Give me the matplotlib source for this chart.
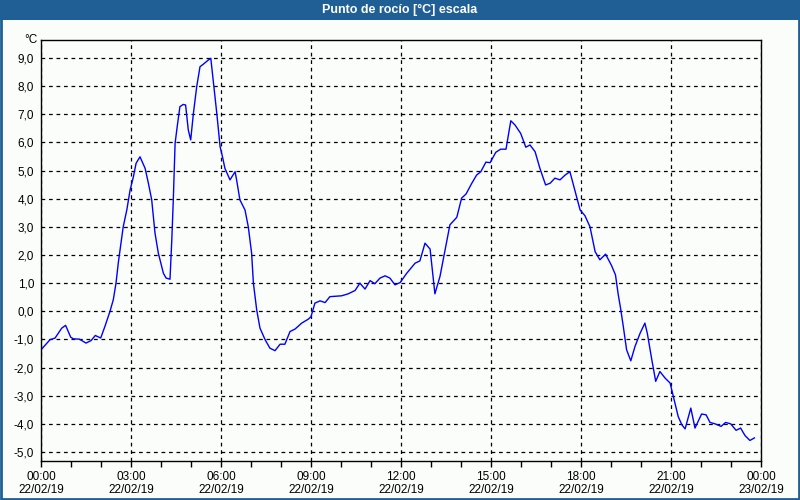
import matplotlib.pyplot as plt
from matplotlib.patches import Rectangle

# --- Data (hours since 22/02/19 00:00, dew point in °C) ---
hours = [0.0, 0.30, 0.47, 0.69, 0.82, 0.99, 1.08, 1.28, 1.5, 1.67, 1.81, 1.99, 2.13, 2.3,
         2.41, 2.5, 2.58, 2.74, 2.86, 2.97, 3.08, 3.17, 3.3, 3.47, 3.58, 3.69, 3.8, 3.91,
         4.08, 4.17, 4.3, 4.36, 4.41, 4.47, 4.54, 4.63, 4.74, 4.82, 4.91, 4.99, 5.08, 5.19,
         5.3, 5.41, 5.58, 5.66, 5.74, 5.86, 5.97, 6.06, 6.13, 6.3, 6.47, 6.52, 6.63, 6.8,
         6.91, 7.02, 7.08, 7.19, 7.3, 7.47, 7.63, 7.8, 7.97, 8.13, 8.3, 8.47, 8.69, 8.91,
         9.0, 9.13, 9.3, 9.47, 9.63, 10.02, 10.24, 10.47, 10.63, 10.8, 10.97, 11.13, 11.3,
         11.47, 11.63, 11.8, 11.97, 12.19, 12.47, 12.63, 12.8, 12.97, 13.13, 13.3, 13.47,
         13.63, 13.86, 14.02, 14.17, 14.36, 14.52, 14.66, 14.83, 14.97, 15.16, 15.32, 15.5,
         15.66, 15.8, 15.99, 16.16, 16.3, 16.47, 16.63, 16.82, 16.97, 17.13, 17.3, 17.47,
         17.63, 17.8, 17.97, 18.13, 18.3, 18.47, 18.63, 18.82, 19.02, 19.15, 19.24, 19.32,
         19.41, 19.52, 19.66, 19.8, 19.97, 20.13, 20.21, 20.36, 20.49, 20.63, 20.8, 20.97,
         21.08, 21.24, 21.36, 21.47, 21.66, 21.8, 22.02, 22.17, 22.3, 22.47, 22.67, 22.82,
         22.99, 23.17, 23.32, 23.47, 23.63, 23.78]
dew_point = [-1.37, -1.01, -0.95, -0.6, -0.5, -0.92, -0.98, -0.99, -1.13, -1.04, -0.86, -0.95,
             -0.54, 0.0, 0.41, 1.0, 1.75, 3.0, 3.6, 4.31, 4.78, 5.26, 5.49, 5.08, 4.55, 3.96,
             2.78, 2.07, 1.35, 1.18, 1.14, 2.54, 3.96, 5.97, 6.56, 7.27, 7.35, 7.33, 6.44,
             6.09, 7.03, 7.98, 8.69, 8.78, 8.93, 8.99, 8.22, 7.03, 5.85, 5.44, 5.08, 4.67,
             4.96, 4.67, 3.96, 3.6, 3.0, 2.07, 1.0, 0.05, -0.6, -1.01, -1.31, -1.4, -1.17,
             -1.17, -0.72, -0.63, -0.42, -0.28, -0.19, 0.29, 0.37, 0.31, 0.52, 0.55, 0.62,
             0.74, 1.0, 0.79, 1.09, 0.98, 1.18, 1.26, 1.18, 0.94, 1.02, 1.35, 1.71, 1.79,
             2.42, 2.21, 0.62, 1.24, 2.18, 3.07, 3.34, 4.02, 4.17, 4.55, 4.84, 4.96, 5.3,
             5.28, 5.65, 5.76, 5.76, 6.77, 6.62, 6.32, 5.83, 5.91, 5.67, 5.08, 4.49, 4.55,
             4.73, 4.67, 4.84, 4.96, 4.28, 3.6, 3.4, 3.0, 2.12, 1.83, 2.03, 1.62, 1.29, 0.6,
             0.1, -0.54, -1.37, -1.76, -1.25, -0.78, -0.42, -0.78, -1.72, -2.49, -2.14, -2.37,
             -2.55, -3.03, -3.74, -4.03, -4.18, -3.44, -4.15, -3.65, -3.68, -3.95, -4.0,
             -4.09, -3.95, -4.0, -4.23, -4.15, -4.42, -4.59, -4.5]

x_ticks = [0, 3, 6, 9, 12, 15, 18, 21, 24]
x_labels = ['00:00\n22/02/19', '03:00\n22/02/19', '06:00\n22/02/19', '09:00\n22/02/19',
            '12:00\n22/02/19', '15:00\n22/02/19', '18:00\n22/02/19', '21:00\n22/02/19',
            '00:00\n23/02/19']
y_ticks = [9, 8, 7, 6, 5, 4, 3, 2, 1, 0, -1, -2, -3, -4, -5]

TITLE = 'Punto de rocío [°C] escala'
FRAME_BLUE = '#1f5f96'
BG = '#fbfdfb'

plt.rcParams['font.family'] = ['Liberation Sans', 'DejaVu Sans']

fig = plt.figure(figsize=(8, 5), dpi=100, facecolor=BG)

# title bar and outer frame
fig.patches.append(Rectangle((0, 1 - 20 / 500), 1, 20 / 500, transform=fig.transFigure,
                             facecolor=FRAME_BLUE, edgecolor='none', zorder=0))
fig.patches.append(Rectangle((0.001, 0.002), 0.998, 0.996, transform=fig.transFigure,
                             facecolor='none', edgecolor=FRAME_BLUE, linewidth=2, zorder=1))
fig.text(0.5, 1 - 10 / 500, TITLE, color='white', fontsize=9, fontweight='bold',
         ha='center', va='center')

ax = fig.add_axes([41 / 800, 39 / 500, 720 / 800, 421 / 500])
ax.set_facecolor(BG)
ax.plot(hours, dew_point, color='#0000ff', linewidth=1)

ax.set_xlim(0, 24)
ax.set_ylim(-5.32, 9.64)

ax.set_xticks(x_ticks)
ax.set_xticklabels(x_labels, fontsize=8.5, linespacing=1.15)
ax.set_xticks(range(25), minor=True)
ax.set_yticks(y_ticks)
ax.set_yticklabels([f'{v:.1f}'.replace('.', ',') for v in y_ticks], fontsize=8.5)

ax.tick_params(axis='x', which='both', direction='out', length=4, width=1, pad=3)
ax.tick_params(axis='y', length=0, pad=5)

ax.grid(True, which='major', color='black', linestyle=(0, (3, 3)), linewidth=0.9)
for s in ax.spines.values():
    s.set_color('black')
    s.set_linewidth(1)

ax.text(-0.005, 1.0, '°C', transform=ax.transAxes, fontsize=8.5, ha='right', va='center')

fig.savefig('out.png', dpi=100, facecolor=BG)
